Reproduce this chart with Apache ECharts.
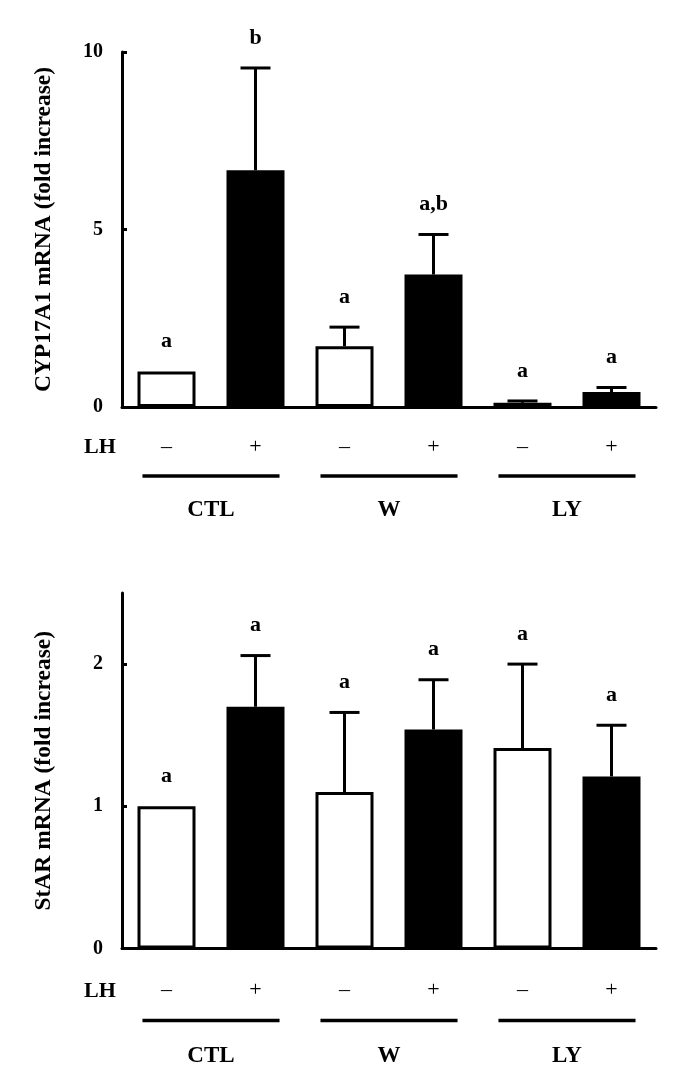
<!DOCTYPE html>
<html>
<head>
<meta charset="utf-8">
<script src="https://cdn.jsdelivr.net/npm/echarts@6/dist/echarts.min.js"></script>
<style>html,body{margin:0;padding:0;background:#fff}#c{width:685px;height:1086px}</style>
</head>
<body>
<div id="c"></div>
<script>
const cats = ['CTL-', 'CTL+', 'W-', 'W+', 'LY-', 'LY+'];
const lhSigns = ['–', '+', '–', '+', '–', '+'];
const groups = ['CTL', 'W', 'LY'];
const cypMean = [1.0, 6.67, 1.71, 3.73, 0.12, 0.42];
const cypErrTop = [1.0, 9.55, 2.25, 4.86, 0.17, 0.55];
const cypSig = ['a', 'b', 'a', 'a,b', 'a', 'a'];
const starMean = [1.0, 1.70, 1.10, 1.54, 1.41, 1.21];
const starErrTop = [1.0, 2.06, 1.66, 1.89, 2.00, 1.57];
const starSig = ['a', 'a', 'a', 'a', 'a', 'a'];
const cypTicks = [0, 5, 10];
const starTicks = [0, 1, 2];

const FONT = "'Liberation Serif', 'Times New Roman', serif";
const chart = echarts.init(document.getElementById('c'), null, { renderer: 'canvas' });

function catAxis(gi, signOffset) {
  return {
    type: 'category', gridIndex: gi, data: cats, position: 'bottom',
    axisLine: { onZero: false, lineStyle: { color: '#000', width: 3 } },
    axisTick: { show: false },
    axisLabel: {
      margin: signOffset - 11, fontFamily: FONT, fontSize: 22, lineHeight: 22, color: '#000',
      formatter: (v, i) => lhSigns[i]
    }
  };
}
function groupAxis(gi, labelOffset) {
  return {
    type: 'category', gridIndex: gi, data: groups, position: 'bottom',
    axisLine: { show: false, onZero: false }, axisTick: { show: false },
    axisLabel: { margin: labelOffset - 11.5, fontFamily: FONT, fontSize: 23, lineHeight: 23, fontWeight: 'bold', color: '#000' }
  };
}
function valAxis(gi, max, interval, ticks, name) {
  return {
    type: 'value', gridIndex: gi, min: 0, max: max, interval: interval,
    name: name, nameLocation: 'middle', nameRotate: 90, nameGap: 66,
    nameTextStyle: { fontFamily: FONT, fontSize: 23.5, fontWeight: 'bold', color: '#000' },
    axisLine: { show: true, lineStyle: { color: '#000', width: 3 } },
    axisTick: { show: true, inside: true, length: 5, lineStyle: { color: '#000', width: 3 }, customValues: ticks },
    axisLabel: { margin: 19, fontFamily: FONT, fontSize: 20, fontWeight: 'bold', color: '#000', customValues: ticks },
    splitLine: { show: false }
  };
}
function barSeries(xi, yi, means) {
  return {
    type: 'bar', xAxisIndex: xi, yAxisIndex: yi, barWidth: 58,
    data: means.map((v, i) => ({
      value: v,
      itemStyle: { color: lhSigns[i] === '+' ? '#000' : '#fff', borderColor: '#000', borderWidth: 3 }
    })),
    silent: true, animation: false
  };
}
function errSeries(xi, yi, means, tops, sigs) {
  return {
    type: 'custom', xAxisIndex: xi, yAxisIndex: yi, clip: false, silent: true, animation: false, z: 5,
    data: means.map((v, i) => [i, v, tops[i]]),
    renderItem: function (params, api) {
      const i = params.dataIndex;
      const base = api.coord([api.value(0), api.value(1)]);
      const top = api.coord([api.value(0), api.value(2)]);
      const children = [];
      if (api.value(2) > api.value(1)) {
        children.push({ type: 'line', shape: { x1: base[0], y1: base[1], x2: top[0], y2: top[1] }, style: { stroke: '#000', lineWidth: 3 } });
        children.push({ type: 'line', shape: { x1: top[0] - 15, y1: top[1], x2: top[0] + 15, y2: top[1] }, style: { stroke: '#000', lineWidth: 3 } });
      }
      children.push({ type: 'text', x: top[0], y: top[1] - 30, style: { text: sigs[i], fontFamily: FONT, fontSize: 22, fontWeight: 'bold', fill: '#000', align: 'center', verticalAlign: 'middle' } });
      return { type: 'group', children: children };
    }
  };
}
function groupLineSeries(xi, yi, lineOffset) {
  return {
    type: 'custom', xAxisIndex: xi, yAxisIndex: yi, clip: false, silent: true, animation: false,
    data: groups.map((g, i) => [i, 0]),
    renderItem: function (params, api) {
      const p = api.coord([api.value(0), 0]);
      const w = api.size([1, 0])[0];
      const half = w * 0.385;
      return { type: 'line', shape: { x1: p[0] - half, y1: p[1] + lineOffset, x2: p[0] + half, y2: p[1] + lineOffset }, style: { stroke: '#000', lineWidth: 3.5 } };
    }
  };
}

const option = {
  backgroundColor: '#fff',
  animation: false,
  grid: [
    { left: 122, right: 29, top: 52, height: 355 },
    { left: 122, right: 29, top: 593, height: 355.5 }
  ],
  xAxis: [catAxis(0, 40), groupAxis(0, 103), catAxis(1, 42), groupAxis(1, 108)],
  yAxis: [
    valAxis(0, 10, 5, cypTicks, 'CYP17A1 mRNA (fold increase)'),
    valAxis(1, 2.5, 0.5, starTicks, 'StAR mRNA (fold increase)')
  ],
  graphic: [
    { type: 'text', x: 100, y: 447, style: { text: 'LH', fontFamily: FONT, fontSize: 22, fontWeight: 'bold', fill: '#000', align: 'center', verticalAlign: 'middle' } },
    { type: 'text', x: 100, y: 991, style: { text: 'LH', fontFamily: FONT, fontSize: 22, fontWeight: 'bold', fill: '#000', align: 'center', verticalAlign: 'middle' } }
  ],
  series: [
    barSeries(0, 0, cypMean),
    errSeries(0, 0, cypMean, cypErrTop, cypSig),
    groupLineSeries(1, 0, 69),
    barSeries(2, 1, starMean),
    errSeries(2, 1, starMean, starErrTop, starSig),
    groupLineSeries(3, 1, 72)
  ]
};
chart.setOption(option);
</script>
</body>
</html>
